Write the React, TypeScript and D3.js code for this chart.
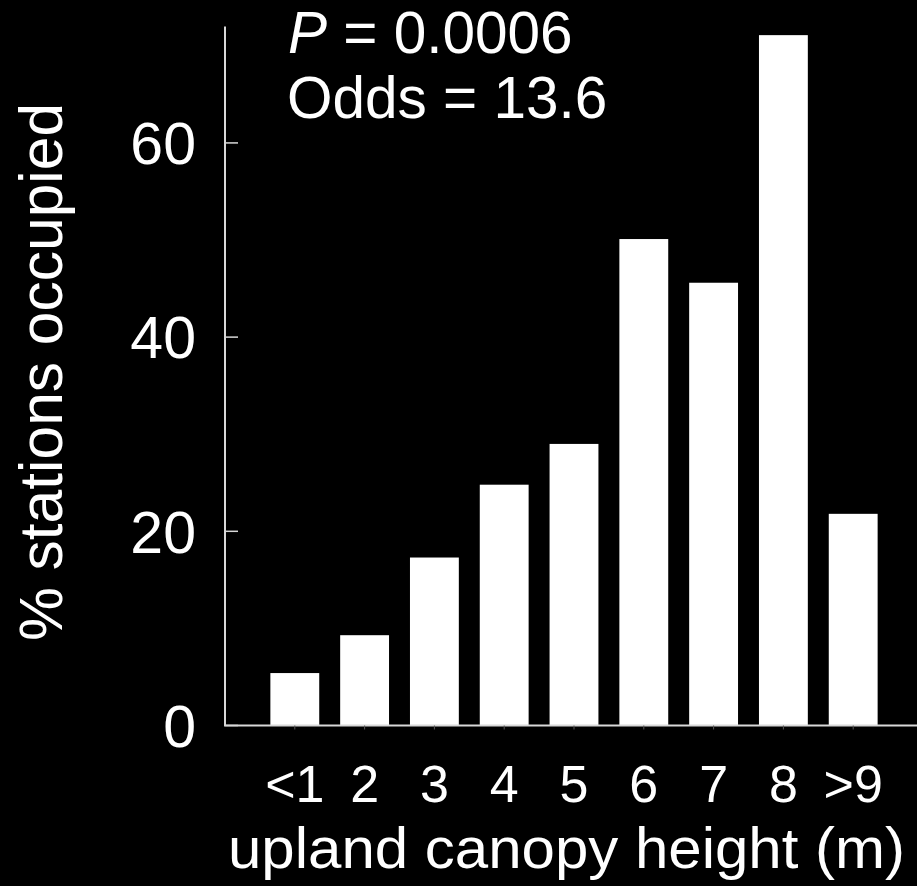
import React from "react";
import * as d3 from "d3";

const categories = ["<1", "2", "3", "4", "5", "6", "7", "8", ">9"];
const occupied = [5.4, 9.3, 17.3, 24.8, 29.0, 50.1, 45.6, 71.1, 21.8];
const yTicks = [0, 20, 40, 60];

const W = 917;
const H = 886;
const FONT = "'Liberation Sans', Arial, Helvetica, sans-serif";

export default function App() {
  const x = d3
    .scaleBand<string>()
    .domain(categories)
    .range([225, 923])
    .paddingInner(0.3)
    .paddingOuter(0.65);
  const y = d3.scaleLinear().domain([0, 72]).range([725.5, 26.4]);

  const axisColor = "#d8d8d8";

  return (
    <svg
      width={W}
      height={H}
      style={{ position: "absolute", left: 0, top: 0, display: "block", background: "#000" }}
      fontFamily={FONT}
    >
      <rect x={0} y={0} width={W} height={H} fill="#000" />

      {/* bars */}
      {occupied.map((v, i) => (
        <rect
          key={categories[i]}
          x={x(categories[i])}
          y={y(v)}
          width={x.bandwidth()}
          height={y(0) - y(v)}
          fill="#fff"
        />
      ))}

      {/* y axis */}
      <line x1={225} x2={225} y1={y(72)} y2={y(0)} stroke={axisColor} strokeWidth={2} />
      {yTicks.map((t) => (
        <g key={t}>
          <line x1={225} x2={238} y1={y(t)} y2={y(t)} stroke={axisColor} strokeWidth={1.5} />
          <text
            x={196}
            y={y(t)}
            dy="0.36em"
            textAnchor="end"
            fill="#fff"
            fontSize={59}
          >
            {t}
          </text>
        </g>
      ))}

      {/* x axis */}
      <line x1={224} x2={W} y1={y(0)} y2={y(0)} stroke={axisColor} strokeWidth={2} />
      {categories.map((c) => {
        const cx = (x(c) as number) + x.bandwidth() / 2;
        return (
          <g key={c}>
            <line x1={cx} x2={cx} y1={y(0)} y2={y(0) + 4} stroke="#555" strokeWidth={1} />
            <text x={cx} y={801.5} textAnchor="middle" fill="#fff" fontSize={52}>
              {c}
            </text>
          </g>
        );
      })}

      {/* axis titles */}
      <text
        x={228}
        y={868}
        fill="#fff"
        fontSize={57}
        textLength={677}
        lengthAdjust="spacingAndGlyphs"
      >
        upland canopy height (m)
      </text>
      <text
        transform="translate(62,372) rotate(-90)"
        textAnchor="middle"
        fill="#fff"
        fontSize={60.5}
      >
        % stations occupied
      </text>

      {/* statistics */}
      <text x={288} y={53} fill="#fff" fontSize={58.5}>
        <tspan fontStyle="italic">P</tspan>
        <tspan> = 0.0006</tspan>
      </text>
      <text x={287} y={118} fill="#fff" fontSize={58.5}>
        Odds = 13.6
      </text>
    </svg>
  );
}
